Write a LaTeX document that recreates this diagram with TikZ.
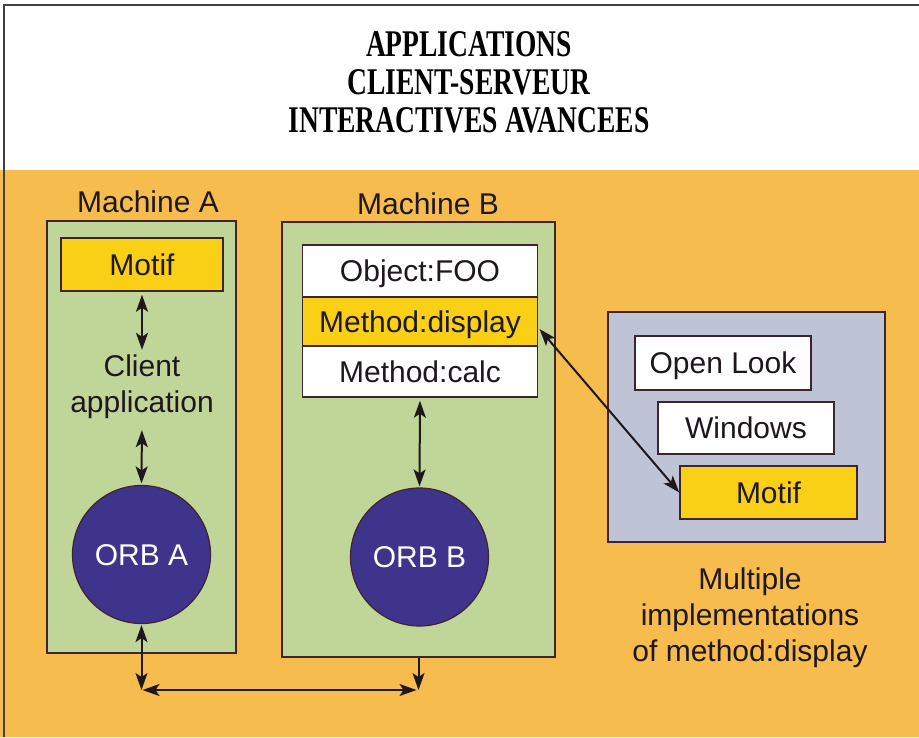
\documentclass[tikz,border=0pt]{standalone}
\usepackage{fontspec}
\setmainfont{Liberation Sans}
\newfontfamily\titlefont[FakeStretch=0.73]{Liberation Serif}
\usetikzlibrary{arrows.meta,calc}
\definecolor{bgorange}{RGB}{246,188,78}
\definecolor{machgreen}{RGB}{192,214,152}
\definecolor{boxyellow}{RGB}{249,208,22}
\definecolor{implblue}{RGB}{190,196,214}
\definecolor{orbblue}{RGB}{62,52,140}
\definecolor{edge}{RGB}{62,36,46}
\definecolor{ink}{RGB}{30,24,30}
\begin{document}
\begin{tikzpicture}[x=1pt,y=-1pt,
  txt/.style={font=\fontsize{30}{36}\selectfont, text=ink, inner sep=0pt},
  onel/.style={txt, text height=21.5pt, text depth=0pt},
  machbox/.style={draw=edge, line width=1.5pt, fill=machgreen, inner sep=0pt},
  wbox/.style={onel, draw=edge, line width=1.5pt, fill=white},
  ybox/.style={onel, draw=edge, line width=1.5pt, fill=boxyellow},
  orb/.style={circle, draw=edge, line width=1.2pt, fill=orbblue, minimum size=138pt,
    text=white, font=\fontsize{30}{36}\selectfont, text height=21.5pt, text depth=0pt, inner sep=0pt},
  tip/.tip={Stealth[length=17pt,width=12pt,inset=4pt]},
  dbl/.style={tip-tip, line width=2pt, draw=ink},
  sgl/.style={-tip, line width=2pt, draw=ink}
]
\useasboundingbox (0,0) rectangle (919,737);
\fill[white] (0,0) rectangle (919,170);
\fill[bgorange] (0,170) rectangle (919,737);
\draw[line width=2pt, draw=black!75] (4,737) -- (4,5) -- (919,5);

% title
\node[align=center, inner sep=0pt, font=\titlefont\bfseries\fontsize{37.7}{37.8}\selectfont] (title) at (469,82.5)
  {APPLICATIONS\\CLIENT-SERVEUR\\INTERACTIVES AVANCEES};

% Machine A
\node[machbox, minimum width=189pt, minimum height=432pt] (machA) at (141.5,437) {};
\node[onel] (labA) at (148,202) {Machine A};
\node[ybox, minimum width=162pt, minimum height=53pt] (motifA) at (142,264.5) {Motif};
\node[txt, align=center] (client) at (142,387) {Client\\application};
\node[orb] (orbA) at (141.5,554.5) {ORB A};

% Machine B
\node[machbox, minimum width=273pt, minimum height=435pt] (machB) at (418.5,439.5) {};
\node[onel] (labB) at (428,204) {Machine B};
\node[wbox, minimum width=235pt, minimum height=52pt] (obj) at (420,271) {Object:FOO};
\node[ybox, minimum width=235pt, minimum height=49pt] (md) at (420,321.5) {Method:display};
\node[wbox, minimum width=235pt, minimum height=51pt] (mc) at (420,371.5) {Method:calc};
\node[orb] (orbB) at (419.5,557) {ORB B};

% implementations panel
\node[draw=edge, line width=1.5pt, fill=implblue, minimum width=277pt, minimum height=230pt, inner sep=0pt] (impl) at (746.5,427) {};
\node[wbox, minimum width=176pt, minimum height=54pt] (ol) at (723,363) {Open Look};
\node[wbox, minimum width=176pt, minimum height=52pt] (win) at (746,428) {Windows};
\node[ybox, minimum width=177pt, minimum height=53pt] (motifR) at (768.5,492.5) {Motif};
\node[txt, align=center] (multi) at (750,618) {Multiple\\implementations\\of method:display};

% connectors
\draw[dbl, shorten <=3pt, shorten >=5pt] (motifA.south) -- (client.north);
\draw[dbl, shorten <=11pt, shorten >=1.5pt] (client.south) -- (orbA.north);
\draw[dbl, shorten <=3pt, shorten >=1pt] (mc.south) -- (orbB.north);
\draw[dbl, shorten <=2pt] ($(md.east)+(0,6)$) -- (motifR.west);

\coordinate (jA) at (orbA.south |- 0,690);
\coordinate (jB) at (machB.south |- 0,690);
\draw[dbl, shorten <=1pt] (orbA.south) -- (jA);
\draw[sgl] (machB.south) -- (jB);
\draw[dbl, shorten <=1pt, shorten >=2pt] (jA) -- (jB);
\end{tikzpicture}
\end{document}
